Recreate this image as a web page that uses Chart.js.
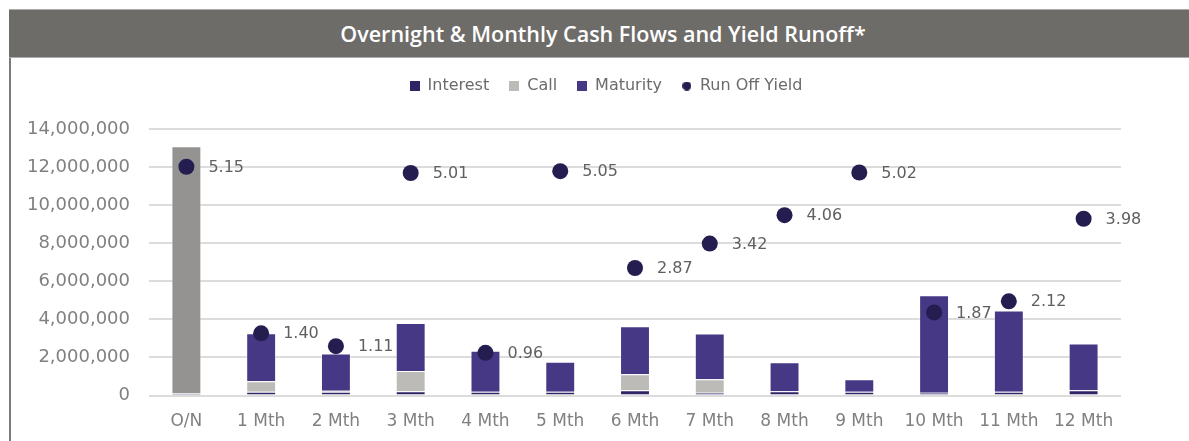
<!DOCTYPE html>
<html>
<head>
<meta charset="utf-8">
<script src="https://cdn.jsdelivr.net/npm/chart.js@4.4.1/dist/chart.umd.min.js"></script>
<style>
  html, body { margin: 0; padding: 0; background: #fff; }
  body { width: 1189px; height: 441px; position: relative; overflow: hidden; }
  .title-bar {
    position: absolute; left: 9px; top: 9px; right: 0; height: 47px;
    background: #6e6c69; border-top: 1px solid #ababab; border-bottom: 1px solid #ababab;
    color: #fff; font: 600 21.5px "Open Sans", Lato, sans-serif;
    display: flex; align-items: center; justify-content: center;
    padding-left: 8px; box-sizing: content-box;
  }
  .frame-left { position: absolute; left: 9px; top: 58px; width: 2px; bottom: 0; background: #7b7b7b; }
  .chart-wrap { position: absolute; left: 11px; top: 57px; width: 1178px; height: 384px; }
</style>
</head>
<body>
<div class="title-bar">Overnight &amp; Monthly Cash Flows and Yield Runoff*</div>
<div class="frame-left"></div>
<div class="chart-wrap"><canvas id="cashFlowChart"></canvas></div>
<script>
const categories = ['O/N', '1 Mth', '2 Mth', '3 Mth', '4 Mth', '5 Mth', '6 Mth', '7 Mth', '8 Mth', '9 Mth', '10 Mth', '11 Mth', '12 Mth'];

// cash flows in USD
const interest = [100000, 200000, 200000, 220000, 200000, 200000, 280000, 150000, 220000, 200000, 150000, 200000, 280000];
const call = [13000000, 550000, 50000, 1070000, null, null, 830000, 700000, null, null, null, null, null];
const maturity = [null, 2520000, 1950000, 2520000, 2150000, 1570000, 2530000, 2410000, 1530000, 650000, 5110000, 4260000, 2450000];

// run off yield (%), plotted on hidden right scale 0-6
const runOffYield = [5.15, 1.40, 1.11, 5.01, 0.96, 5.05, 2.87, 3.42, 4.06, 5.02, 1.87, 2.12, 3.98];

const yTicks = [0, 2000000, 4000000, 6000000, 8000000, 10000000, 12000000, 14000000];

const COLORS = {
  interest: '#2e2466',
  call: '#bdbbb8',
  overnight: '#949392',
  maturity: '#463884',
  yield: '#241d4f',
};

const TICK_FONT = 'DejaVu Sans';

function makeMarker(kind, color) {
  const c = document.createElement('canvas');
  const size = kind === 'circle' ? 9 : 10;
  c.width = size;
  c.height = size;
  const ctx = c.getContext('2d');
  ctx.fillStyle = color;
  if (kind === 'circle') {
    ctx.beginPath();
    ctx.arc(size / 2, size / 2, size / 2, 0, Math.PI * 2);
    ctx.fill();
  } else {
    ctx.fillRect(0, 0, size, size);
  }
  return c;
}

// extra room under the legend, and nudge it to the centre of the panel
const legendSpacing = {
  id: 'legendSpacing',
  beforeInit(chart) {
    const fit = chart.legend.fit;
    chart.legend.fit = function () {
      fit.bind(chart.legend)();
      this.height += 25;
    };
  },
  afterLayout(chart) {
    chart.legend.left += 40;
    chart.legend.right += 40;
  },
};

const yieldLabels = {
  id: 'yieldLabels',
  afterDatasetsDraw(chart) {
    const idx = chart.data.datasets.findIndex((d) => d.type === 'line');
    const meta = chart.getDatasetMeta(idx);
    const { ctx } = chart;
    ctx.save();
    ctx.font = `16px ${TICK_FONT}`;
    ctx.fillStyle = '#606060';
    ctx.textAlign = 'left';
    ctx.textBaseline = 'middle';
    meta.data.forEach((pt, i) => {
      ctx.fillText(runOffYield[i].toFixed(2), pt.x + 22, pt.y + 1);
    });
    ctx.restore();
  },
};

const barCommon = {
  type: 'bar',
  stack: 'cf',
  order: 1,
  pointStyle: 'rect',
  borderColor: 'rgba(255,255,255,0.35)',
  borderWidth: 1,
  barPercentage: 0.4,
  categoryPercentage: 1,
  yAxisID: 'y',
};

new Chart(document.getElementById('cashFlowChart'), {
  data: {
    labels: categories,
    datasets: [
      { ...barCommon, label: 'Interest', data: interest, backgroundColor: COLORS.interest, legendColor: COLORS.interest, marker: 'rect' },
      {
        ...barCommon,
        label: 'Call',
        data: call,
        backgroundColor: categories.map((c) => (c === 'O/N' ? COLORS.overnight : COLORS.call)),
        legendColor: COLORS.call,
        marker: 'rect',
      },
      { ...barCommon, label: 'Maturity', data: maturity, backgroundColor: COLORS.maturity, legendColor: COLORS.maturity, marker: 'rect' },
      {
        type: 'line',
        label: 'Run Off Yield',
        data: runOffYield,
        yAxisID: 'y2',
        order: 0,
        showLine: false,
        pointStyle: 'circle',
        pointRadius: 8,
        pointHoverRadius: 8,
        pointBackgroundColor: COLORS.yield,
        pointBorderWidth: 0,
        backgroundColor: COLORS.yield,
        borderColor: COLORS.yield,
        legendColor: COLORS.yield,
        marker: 'circle',
      },
    ],
  },
  options: {
    responsive: true,
    maintainAspectRatio: false,
    animation: false,
    layout: { padding: { top: 1, right: 68, bottom: 0, left: 0 } },
    plugins: {
      tooltip: { enabled: false },
      legend: {
        position: 'top',
        labels: {
          usePointStyle: true,
          boxWidth: 10,
          boxHeight: 10,
          padding: 20,
          color: '#6b6b6b',
          font: { family: TICK_FONT, size: 16 },
          sort: (a, b) => a.datasetIndex - b.datasetIndex,
          generateLabels(chart) {
            const items = Chart.defaults.plugins.legend.labels.generateLabels(chart);
            items.forEach((it) => {
              const ds = chart.data.datasets[it.datasetIndex];
              it.fillStyle = ds.legendColor;
              it.strokeStyle = ds.legendColor;
              it.lineWidth = 0;
              it.pointStyle = makeMarker(ds.marker, ds.legendColor);
            });
            return items;
          },
        },
      },
    },
    scales: {
      x: {
        stacked: true,
        offset: true,
        grid: { display: false, drawTicks: false },
        border: { display: false },
        ticks: { color: '#808080', font: { family: TICK_FONT, size: 17 }, padding: 16, maxRotation: 0, autoSkip: false },
        afterFit(scale) {
          scale.height = 45.5;
        },
      },
      y: {
        stacked: true,
        min: 0,
        max: 14000000,
        afterBuildTicks(scale) {
          scale.ticks = yTicks.map((v) => ({ value: v }));
        },
        grid: { color: '#dcdcdc', lineWidth: 2, drawTicks: false },
        border: { display: false },
        ticks: {
          color: '#808080',
          font: { family: TICK_FONT, size: 18 },
          padding: 19,
          callback: (v) => Number(v).toLocaleString('en-US'),
        },
        afterFit(scale) {
          scale.width = 138;
        },
      },
      y2: {
        display: false,
        min: 0,
        max: 6,
      },
    },
  },
  plugins: [legendSpacing, yieldLabels],
});
</script>
</body>
</html>
